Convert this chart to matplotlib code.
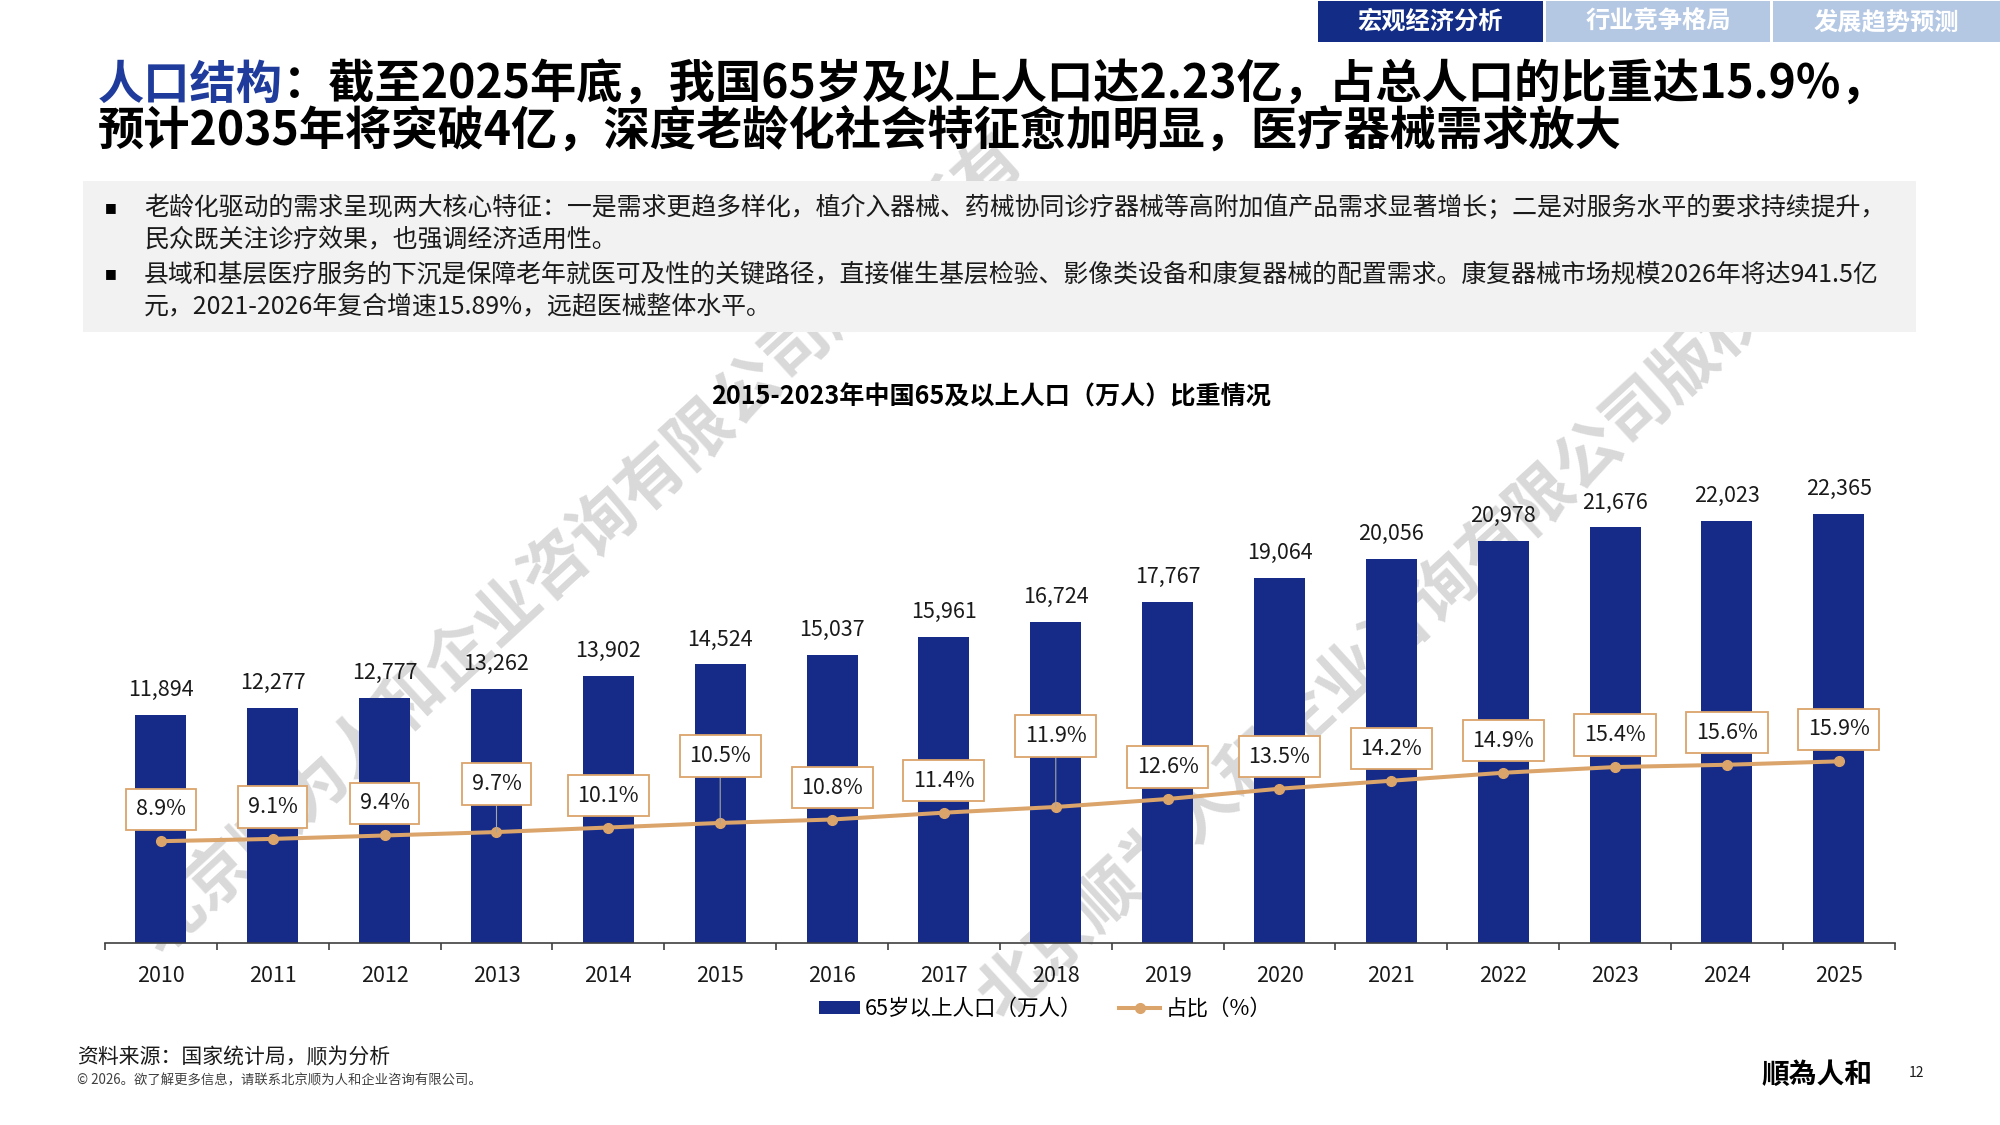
# 2015-2023年中国65及以上人口（万人）比重情况
# Bar + line combo chart on a report page

import numpy as np
import matplotlib.pyplot as plt
from matplotlib.patches import Rectangle
from matplotlib.lines import Line2D

plt.rcParams['font.family'] = ['Noto Sans CJK SC', 'DejaVu Sans']

# data
years = ['2010', '2011', '2012', '2013', '2014', '2015', '2016', '2017',
         '2018', '2019', '2020', '2021', '2022', '2023', '2024', '2025']
population = [11894, 12277, 12777, 13262, 13902, 14524, 15037, 15961,
              16724, 17767, 19064, 20056, 20978, 21676, 22023, 22365]
share = [8.9, 9.1, 9.4, 9.7, 10.1, 10.5, 10.8, 11.4,
         11.9, 12.6, 13.5, 14.2, 14.9, 15.4, 15.6, 15.9]

tabs = ['宏观经济分析', '行业竞争格局', '发展趋势预测']
title_head = '人口结构'
title_1 = '：截至2025年底，我国65岁及以上人口达2.23亿，占总人口的比重达15.9%，'
title_2 = '预计2035年将突破4亿，深度老龄化社会特征愈加明显，医疗器械需求放大'
bullets = [
    ['老龄化驱动的需求呈现两大核心特征：一是需求更趋多样化，植介入器械、药械协同诊疗器械等高附加值产品需求显著增长；二是对服务水平的要求持续提升，',
     '民众既关注诊疗效果，也强调经济适用性。'],
    ['县域和基层医疗服务的下沉是保障老年就医可及性的关键路径，直接催生基层检验、影像类设备和康复器械的配置需求。康复器械市场规模2026年将达941.5亿',
     '元，2021-2026年复合增速15.89%，远超医械整体水平。'],
]

# colours
navy = '#152b87'
tan = '#dba46b'
W, H = 2000, 1125


def fx(x):
    return x / W


def fy(y):
    return 1 - y / H


fig = plt.figure(figsize=(20, 11.25), dpi=100)

# watermarks (behind everything)
wm = '北京顺为人和企业咨询有限公司版权所有'
fig.text(fx(581), fy(545), wm, rotation=42.5, rotation_mode='anchor', ha='center', va='center',
         fontsize=47, color='#d9d9d9', fontweight='bold', zorder=-5)
fig.text(fx(1422), fy(610), wm, rotation=42.5, rotation_mode='anchor', ha='center', va='center',
         fontsize=47, color='#d9d9d9', fontweight='bold', zorder=-5)

# tabs top right
tab_x = [(1318, 1543), (1546, 1770), (1773, 2000)]
tab_col = ['#132d86', '#b4c8e4', '#b4c8e4']
for (x0, x1), t, c in zip(tab_x, tabs, tab_col):
    fig.patches.append(Rectangle((fx(x0), fy(42)), fx(x1 - x0), 41 / H, transform=fig.transFigure,
                                 facecolor=c, edgecolor='none', zorder=1))
    fig.text(fx((x0 + x1) / 2), fy(22), t, ha='center', va='center', fontsize=17.5,
             fontweight='bold', color='white', zorder=2)

# headline
head = fig.text(fx(98), fy(85), title_head, ha='left', va='center', fontsize=33.3,
                fontweight='bold', color='#1f3b9b')
fig.canvas.draw()
head_end = head.get_window_extent().x1 / W
fig.text(head_end, fy(85), title_1, ha='left', va='center', fontsize=33.3, fontweight='bold', color='black')
fig.text(fx(98), fy(131), title_2, ha='left', va='center', fontsize=33.3, fontweight='bold', color='black')

# gray text box
fig.patches.append(Rectangle((fx(83), fy(332)), fx(1916 - 83), (332 - 181) / H, transform=fig.transFigure,
                             facecolor='#f2f2f2', edgecolor='none', zorder=-1))
line_y = [[208, 240], [274, 306]]
for b, ys in zip(bullets, line_y):
    fig.text(fx(105), fy(ys[0]), '■', ha='left', va='center', fontsize=9, color='black',
             family=['DejaVu Sans'])
    for t, y in zip(b, ys):
        fig.text(fx(144), fy(y), t, ha='left', va='center', fontsize=17.95, color='#1a1a1a')

# chart title
fig.text(fx(991), fy(397), '2015-2023年中国65及以上人口（万人）比重情况', ha='center', va='center',
         fontsize=18.1, fontweight='bold', color='black')

# chart
ax = fig.add_axes([fx(105), fy(942.7), fx(1894.7 - 105), (942.7 - 434) / H])
ax.set_facecolor('none')
x = np.arange(len(years))
bars = ax.bar(x, population, width=0.456, color=navy, zorder=2)
ax.set_xlim(-0.5, len(years) - 0.5)
ax.set_ylim(0, 26557)
for i, v in enumerate(population):
    ax.annotate(f'{v:,}', (i, v), xytext=(0, 18.0), textcoords='offset points',
                ha='center', va='center', fontsize=15.5, color='#1a1a1a')

for s in ['top', 'left', 'right']:
    ax.spines[s].set_visible(False)
ax.spines['bottom'].set_color('#404040')
ax.spines['bottom'].set_linewidth(1.2)
ax.set_yticks([])
ax.set_xticks(x)
ax.set_xticklabels(years, fontsize=15.5, color='#1a1a1a')
ax.set_xticks(np.arange(-0.5, len(years), 1), minor=True)
ax.tick_params(axis='x', which='major', length=0, pad=16)
ax.tick_params(axis='x', which='minor', length=5, width=1.2, color='#404040')

ax2 = ax.twinx()
ax2.plot(x, share, color=tan, lw=2.9, marker='o', markersize=7, zorder=3)
ax2.set_ylim(0, 44.6)
ax2.axis('off')

# label offsets (px above the point), a few are lifted with a leader line
lift = {3: 48, 5: 67, 8: 71}
for i, p in enumerate(share):
    off = lift.get(i, 32) * 0.72
    arrow = dict(arrowstyle='-', color='#a6a6a6', lw=0.8, shrinkA=0, shrinkB=0) if i in lift else None
    ax2.annotate(f'{p}%', (i, p), xytext=(0, off), textcoords='offset points',
                 ha='center', va='center', fontsize=15.5, color='#1a1a1a', zorder=5,
                 bbox=dict(boxstyle='square,pad=0.45', fc='white', ec=tan, lw=1.3),
                 arrowprops=arrow)

# legend
handles = [Rectangle((0, 0), 1, 1, facecolor=navy),
           Line2D([0], [0], color=tan, lw=2.9, marker='o', markersize=7)]
fig.legend(handles, ['65岁以上人口（万人）', '占比（%）'], loc='center', bbox_to_anchor=(fx(1045), fy(1009)),
           ncol=2, frameon=False, fontsize=15.5, handlelength=1.9, handleheight=0.6,
           handletextpad=0.25, columnspacing=1.7)

# footer
fig.text(fx(77), fy(1057), '资料来源：国家统计局，顺为分析', ha='left', va='center', fontsize=15, color='#1a1a1a')
fig.text(fx(77), fy(1080), '© 2026。欲了解更多信息，请联系北京顺为人和企业咨询有限公司。', ha='left', va='center',
         fontsize=9.6, color='#404040')
fig.text(fx(1817), fy(1075), '順為人和', ha='center', va='center', fontsize=20, fontweight='heavy',
         color='black', family=['Noto Sans CJK TC', 'DejaVu Sans'])
fig.text(fx(1917), fy(1073), '12', ha='center', va='center', fontsize=10, color='#1a1a1a')

plt.savefig('out.png', dpi=100)
